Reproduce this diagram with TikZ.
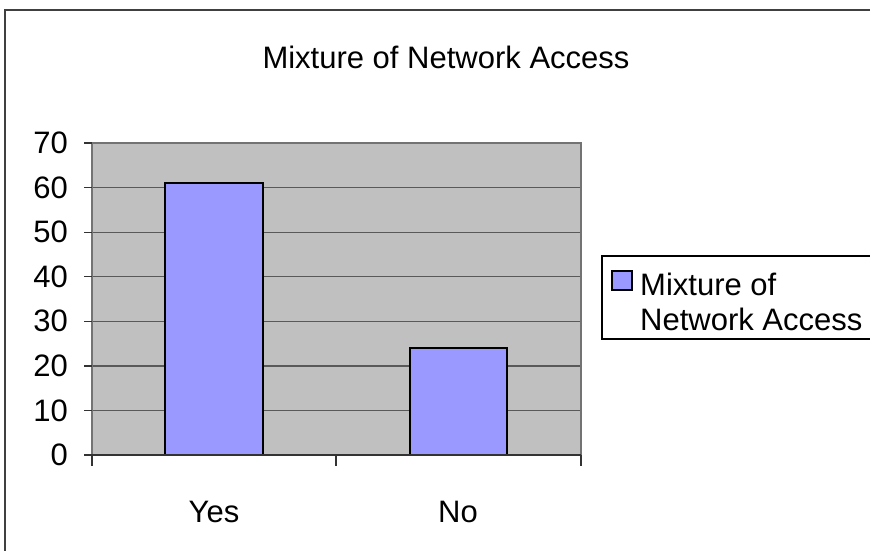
\documentclass[tikz,border=0pt]{standalone}
\usepackage{fontspec}
\setmainfont{Liberation Sans}
\definecolor{plotgray}{HTML}{C0C0C0}
\definecolor{barblue}{HTML}{9999FF}
\tikzset{
  lbl/.style={font=\fontsize{31}{35}\selectfont, inner sep=0pt},
  bar/.style={fill=barblue, draw=black, line width=2pt},
  grid line/.style={draw=black!65, line width=1.3pt}
}
\begin{document}
\begin{tikzpicture}[x=1pt,y=-1pt]
  \useasboundingbox (0,0) rectangle (870,550);
  \draw[black!75, line width=1.5pt] (880,10) -- (5,10) -- (5,560);
  \node[lbl] (title) at (446,57) {Mixture of Network Access};
  \fill[plotgray] (92,143) rectangle (581,455);
  \foreach \v in {10,20,...,60}
    \draw[grid line] (92,{455-4.457*\v}) -- (581,{455-4.457*\v});
  \draw[black!55, line width=2.5pt] (92,455) -- (92,143) -- (581,143) -- (581,455);
  \draw[bar] (165,455) rectangle (263,{455-4.457*61});
  \draw[bar] (410,455) rectangle (507,{455-4.457*24});
  \draw[black!80, line width=1.3pt] (84,455) -- (581,455);
  \foreach \v in {0,10,...,70} {
    \draw[black!80, line width=1.3pt] (84,{455-4.457*\v}) -- (92,{455-4.457*\v});
    \node[lbl, anchor=east] (y\v) at (68,{455-4.457*\v}) {\v};
  }
  \foreach \x in {92,336,581}
    \draw[black!80, line width=1.3pt] (\x,455) -- (\x,466);
  \node[lbl] (yes) at (214,512) {Yes};
  \node[lbl] (no) at (458,512) {No};
  \draw[black, line width=1.2pt] (880,256) -- (602,256) -- (602,339) -- (880,339);
  \draw[fill=barblue, draw=black, line width=1.5pt] (612,271) rectangle (632,290);
  \node[lbl, anchor=north west, align=left] (legend) at (640,273) {Mixture of\\Network Access};
\end{tikzpicture}
\end{document}
